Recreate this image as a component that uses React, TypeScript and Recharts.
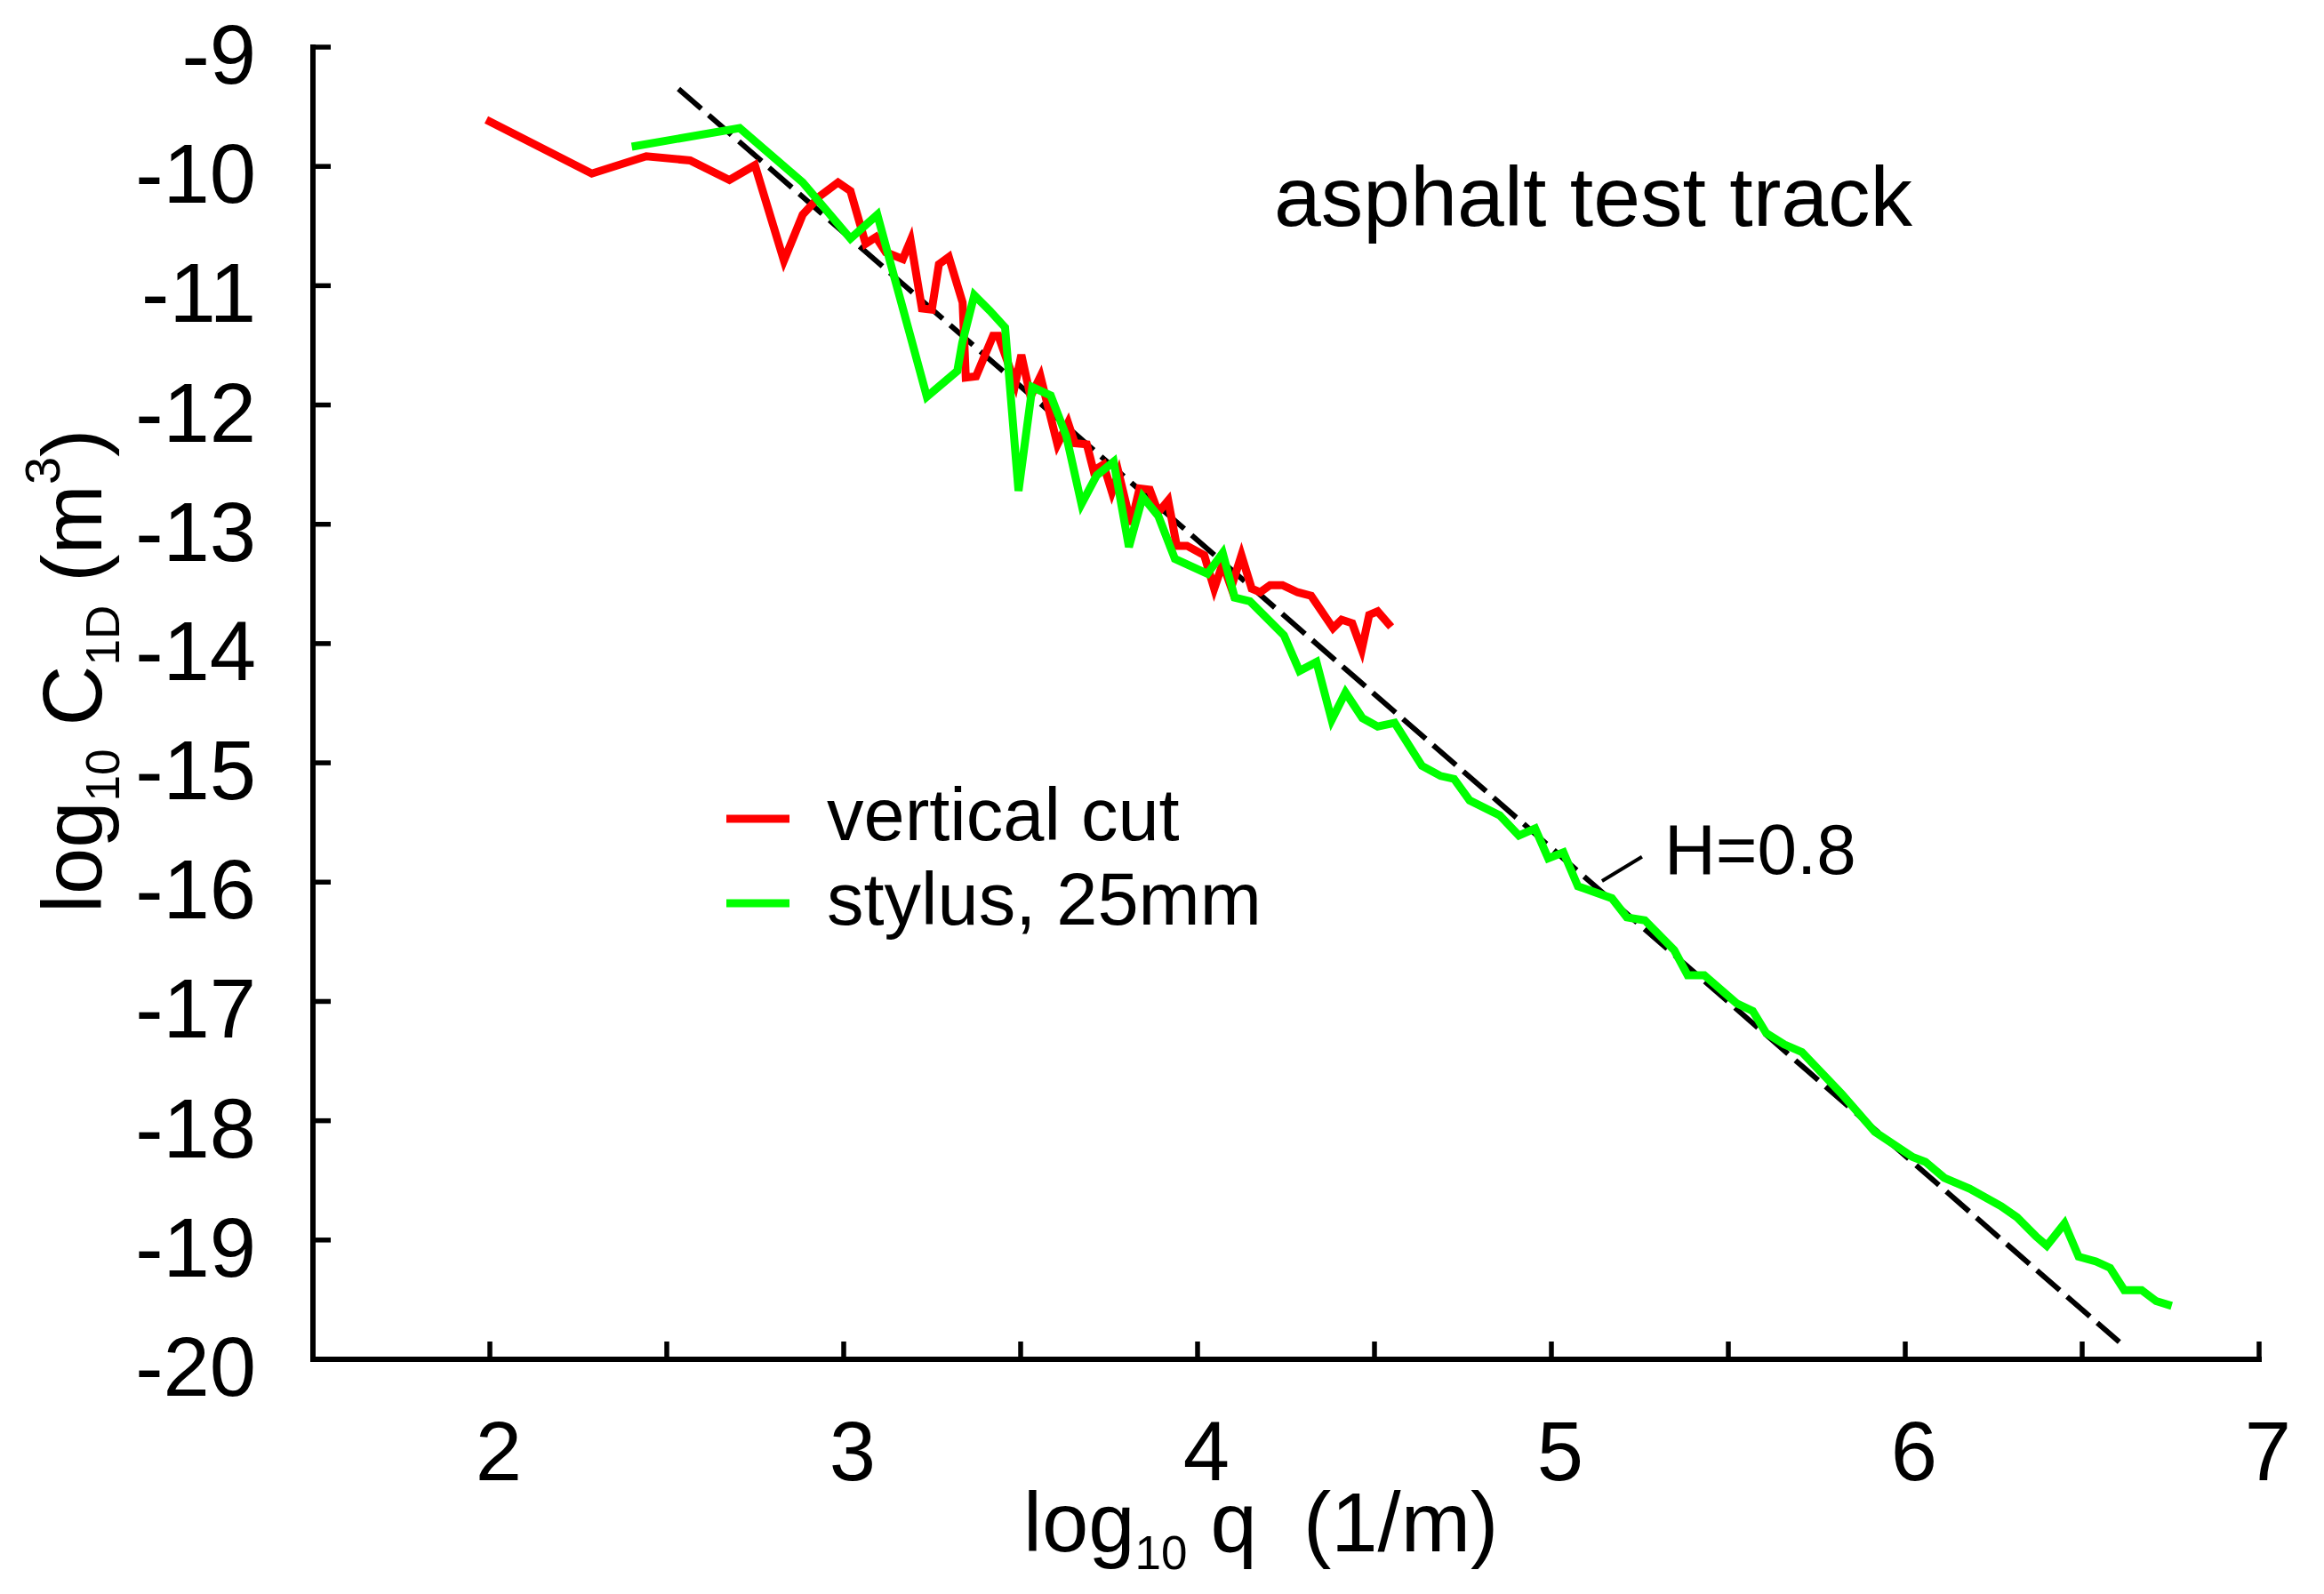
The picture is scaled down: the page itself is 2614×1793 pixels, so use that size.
import React from "react";
import { LineChart, Line, XAxis, YAxis, Customized } from "recharts";

const FONT = "'Liberation Sans', Arial, Helvetica, sans-serif";

// log10 q (1/m), log10 C1D (m^3)
const verticalCut: [number, number][] = [
  [1.99, -9.61], [2.288, -10.06], [2.442, -9.915], [2.566, -9.95], [2.677, -10.114],
  [2.749, -9.99], [2.831, -10.79], [2.884, -10.405], [2.932, -10.25], [2.984, -10.134],
  [3.019, -10.205], [3.062, -10.648], [3.091, -10.592], [3.119, -10.72], [3.167, -10.777],
  [3.189, -10.62], [3.221, -11.19], [3.249, -11.2], [3.269, -10.82], [3.297, -10.76],
  [3.336, -11.14], [3.345, -11.77], [3.374, -11.76], [3.422, -11.42], [3.437, -11.42],
  [3.485, -11.82], [3.502, -11.58], [3.528, -11.93], [3.556, -11.76], [3.604, -12.33],
  [3.634, -12.15], [3.653, -12.32], [3.687, -12.33], [3.706, -12.55], [3.734, -12.5],
  [3.758, -12.73], [3.777, -12.57], [3.812, -13.0], [3.836, -12.7], [3.865, -12.71],
  [3.889, -12.9], [3.917, -12.8], [3.941, -13.18], [3.97, -13.18], [4.019, -13.26],
  [4.047, -13.54], [4.071, -13.33], [4.095, -13.53], [4.124, -13.26], [4.153, -13.54],
  [4.177, -13.57], [4.205, -13.51], [4.24, -13.51], [4.283, -13.57], [4.321, -13.6],
  [4.383, -13.87], [4.407, -13.8], [4.437, -13.83], [4.464, -14.05], [4.485, -13.76],
  [4.509, -13.73], [4.547, -13.86],
];

const stylus25: [number, number][] = [
  [2.401, -9.835], [2.706, -9.678], [2.884, -10.134], [3.019, -10.605], [3.095, -10.405],
  [3.235, -11.93], [3.321, -11.715], [3.335, -11.48], [3.369, -11.08], [3.413, -11.21],
  [3.456, -11.35], [3.494, -12.72], [3.533, -11.85], [3.585, -11.92], [3.629, -12.26],
  [3.672, -12.83], [3.715, -12.59], [3.763, -12.475], [3.806, -13.19], [3.845, -12.77],
  [3.889, -12.93], [3.936, -13.29], [4.028, -13.415], [4.071, -13.24], [4.105, -13.615],
  [4.148, -13.645], [4.244, -13.93], [4.288, -14.23], [4.336, -14.155], [4.379, -14.64],
  [4.418, -14.41], [4.466, -14.625], [4.509, -14.695], [4.557, -14.665], [4.634, -15.025],
  [4.687, -15.11], [4.725, -15.135], [4.769, -15.315], [4.854, -15.44], [4.908, -15.61],
  [4.954, -15.55], [4.991, -15.8], [5.034, -15.75], [5.075, -16.035], [5.171, -16.135],
  [5.213, -16.295], [5.264, -16.32], [5.347, -16.57], [5.385, -16.78], [5.432, -16.78],
  [5.523, -17.015], [5.569, -17.08], [5.607, -17.265], [5.658, -17.36], [5.708, -17.425],
  [5.82, -17.774], [5.914, -18.093], [6.021, -18.305], [6.057, -18.345], [6.11, -18.478],
  [6.182, -18.57], [6.271, -18.716], [6.316, -18.81], [6.369, -18.968], [6.4, -19.048],
  [6.45, -18.862], [6.49, -19.14], [6.539, -19.18], [6.579, -19.234], [6.619, -19.42],
  [6.668, -19.42], [6.709, -19.512], [6.753, -19.552],
];

// H=0.8 power law and the short pointer to its label
const fitLine: [number, number][] = [[2.533, -9.35], [6.605, -19.855]];
const pointerLine: [number, number][] = [[5.143, -15.99], [5.256, -15.788]];

const xTicks = [2, 2.5, 3, 3.5, 4, 4.5, 5, 5.5, 6, 6.5, 7];
const xLabels = [2, 3, 4, 5, 6, 7];
const yTicks = [-9, -10, -11, -12, -13, -14, -15, -16, -17, -18, -19, -20];

const toPts = (s: [number, number][]) => s.map(([x, y]) => ({ x, y }));

const axisLine = { stroke: "#000", strokeWidth: 6, strokeLinecap: "square" as const };
const tickLine = { stroke: "#000", strokeWidth: 5.5 };

const BottomTick = ({ x, y, payload }: any) =>
  xLabels.includes(payload.value) ? (
    <text x={x + 10} y={y + 68} textAnchor="middle" fontSize={94} fontFamily={FONT} fill="#000">
      {payload.value}
    </text>
  ) : (
    <g />
  );

const LeftTick = ({ x, y, payload }: any) => (
  <text x={x} y={y + 41} textAnchor="end" fontSize={94} fontFamily={FONT} fill="#000">
    {payload.value}
  </text>
);

const Annotations = () => (
  <g fontFamily={FONT} fill="#000">
    <text x={1433} y={254} fontSize={95}>asphalt test track</text>
    <text x={1872} y={983} fontSize={80}>H=0.8</text>

    {/* legend */}
    <line x1={817} y1={921} x2={888} y2={921} stroke="#ff0000" strokeWidth={9} />
    <text x={930} y={945} fontSize={83}>vertical cut</text>
    <line x1={817} y1={1016} x2={888} y2={1016} stroke="#00ff00" strokeWidth={9} />
    <text x={930} y={1040} fontSize={83}>stylus, 25mm</text>

    {/* axis titles */}
    <text x={1151} y={1745} fontSize={94} style={{ whiteSpace: "pre" }}>
      log
      <tspan fontSize={53} dy={20}>10</tspan>
      <tspan dy={-20}>{" q  (1/m)"}</tspan>
    </text>
    <text transform="translate(114,1027) rotate(-90)" fontSize={94} style={{ whiteSpace: "pre" }}>
      log
      <tspan fontSize={53} dy={20}>10</tspan>
      <tspan dy={-20}>{" C"}</tspan>
      <tspan fontSize={53} dy={20}>1D</tspan>
      <tspan dy={-20}>{" (m"}</tspan>
      <tspan fontSize={56} dy={-47}>3</tspan>
      <tspan dy={47}>)</tspan>
    </text>
  </g>
);

export default function App() {
  return (
    <div style={{ position: "absolute", left: 0, top: 0, width: 2614, height: 1793, background: "#fff" }}>
      <LineChart width={2614} height={1793} margin={{ top: 53, right: 73, bottom: 64, left: 52 }}>
        <XAxis
          xAxisId="main"
          type="number"
          dataKey="x"
          domain={[1.5, 7]}
          ticks={xTicks}
          allowDataOverflow
          height={200}
          axisLine={axisLine}
          tickLine={tickLine}
          tickSize={-20}
          tickMargin={88}
          tick={BottomTick}
          interval={0}
        />
        <XAxis
          xAxisId="top"
          orientation="top"
          type="number"
          dataKey="x"
          domain={[1.5, 7]}
          ticks={xTicks.slice(0, -1)}
          allowDataOverflow
          height={0}
          axisLine={axisLine}
          tickLine={tickLine}
          tickSize={-20}
          tickFormatter={() => ""}
          interval={0}
        />
        <YAxis
          yAxisId="main"
          type="number"
          dataKey="y"
          domain={[-20, -9]}
          ticks={yTicks}
          allowDataOverflow
          width={300}
          axisLine={axisLine}
          tickLine={tickLine}
          tickSize={-20}
          tickMargin={84}
          tick={LeftTick}
          interval={0}
        />
        <YAxis
          yAxisId="right"
          orientation="right"
          type="number"
          dataKey="y"
          domain={[-20, -9]}
          ticks={yTicks}
          allowDataOverflow
          width={0}
          axisLine={axisLine}
          tickLine={tickLine}
          tickSize={-20}
          tickFormatter={() => ""}
          interval={0}
        />
        <Line
          xAxisId="main"
          yAxisId="main"
          data={toPts(fitLine)}
          dataKey="y"
          stroke="#000"
          strokeWidth={6}
          strokeDasharray="34 11"
          dot={false}
          isAnimationActive={false}
        />
        <Line
          xAxisId="main"
          yAxisId="main"
          data={toPts(verticalCut)}
          dataKey="y"
          stroke="#ff0000"
          strokeWidth={9}
          dot={false}
          isAnimationActive={false}
        />
        <Line
          xAxisId="main"
          yAxisId="main"
          data={toPts(stylus25)}
          dataKey="y"
          stroke="#00ff00"
          strokeWidth={9}
          dot={false}
          isAnimationActive={false}
        />
        <Line
          xAxisId="top"
          yAxisId="right"
          data={toPts(pointerLine)}
          dataKey="y"
          stroke="#000"
          strokeWidth={4}
          dot={false}
          isAnimationActive={false}
        />
        <Customized component={Annotations} />
      </LineChart>
    </div>
  );
}
